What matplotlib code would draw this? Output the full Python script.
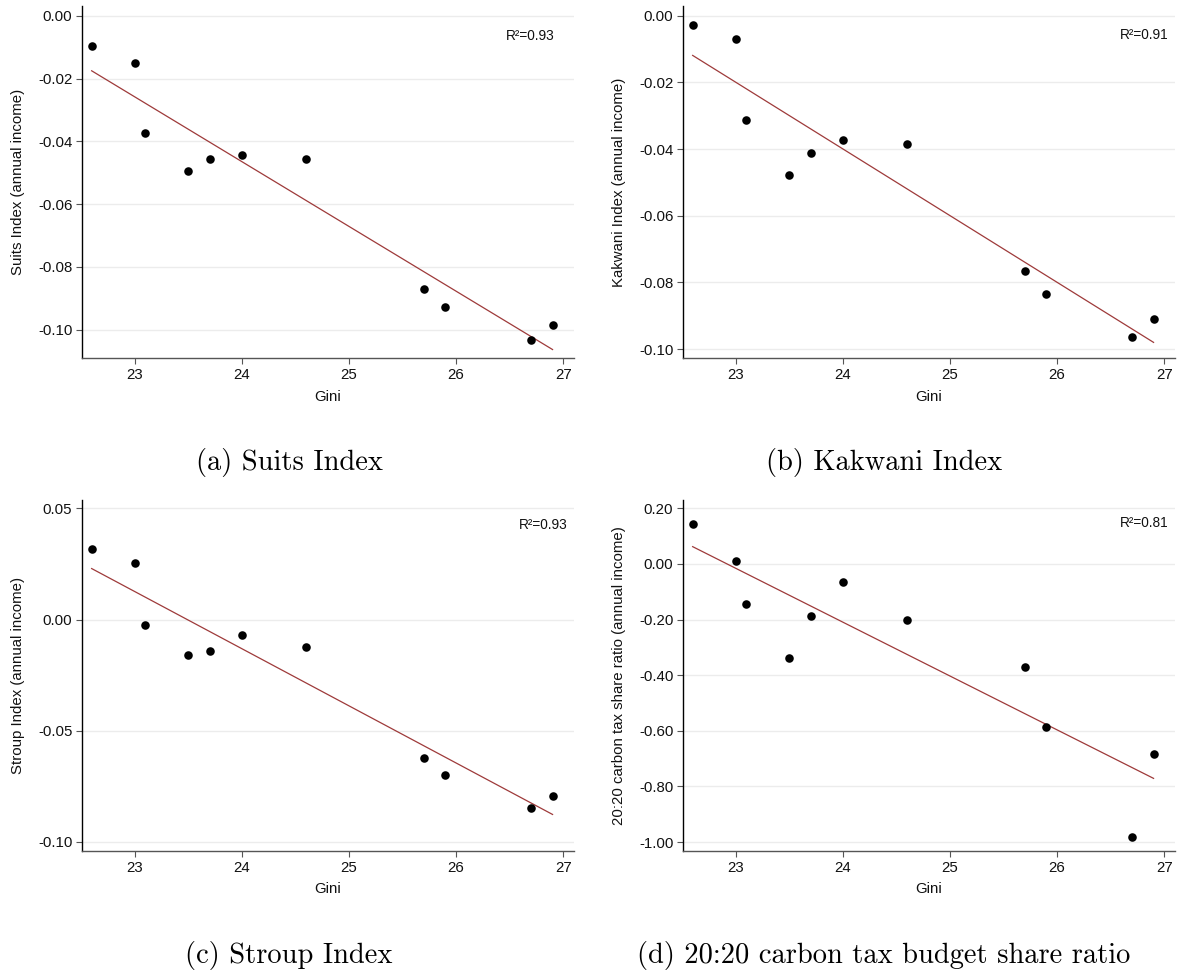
import numpy as np
import matplotlib
matplotlib.use("Agg")
import matplotlib.pyplot as plt
from matplotlib.ticker import FixedLocator, FormatStrFormatter

# data
gini = [22.6, 23.0, 23.1, 23.5, 23.7, 24.0, 24.6, 25.7, 25.9, 26.7, 26.9]
suits = [-0.0095, -0.0152, -0.0373, -0.0496, -0.0456, -0.0444, -0.0455, -0.0869, -0.0929, -0.1032, -0.0986]
kakwani = [-0.0028, -0.0069, -0.0312, -0.0477, -0.0413, -0.0373, -0.0384, -0.0767, -0.0836, -0.0963, -0.0911]
stroup = [0.0318, 0.0255, -0.0026, -0.0158, -0.0141, -0.0068, -0.0123, -0.0622, -0.0700, -0.0847, -0.0796]
ratio2020 = [0.144, 0.012, -0.144, -0.338, -0.188, -0.065, -0.200, -0.372, -0.587, -0.980, -0.685]

r2_labels = ["R²=0.93", "R²=0.91", "R²=0.93", "R²=0.81"]
ylabels = ["Suits Index (annual income)", "Kakwani Index (annual income)",
           "Stroup Index (annual income)", "20:20 carbon tax share ratio (annual income)"]
captions = ["(a) Suits Index", "(b) Kakwani Index", "(c) Stroup Index",
            "(d) 20:20 carbon tax budget share ratio"]
xticks = [23, 24, 25, 26, 27]
yticks = [[0.00, -0.02, -0.04, -0.06, -0.08, -0.10],
          [0.00, -0.02, -0.04, -0.06, -0.08, -0.10],
          [0.05, 0.00, -0.05, -0.10],
          [0.20, 0.00, -0.20, -0.40, -0.60, -0.80, -1.00]]
ylims = [(-0.1092, 0.0031), (-0.1028, 0.0029), (-0.1042, 0.0538), (-1.032, 0.230)]
series = [suits, kakwani, stroup, ratio2020]

plt.rcParams['font.family'] = ['Liberation Sans', 'DejaVu Sans']

W, H = 1180, 972
fig = plt.figure(figsize=(W / 100, H / 100), dpi=100)

# axes boxes in pixels: left, top, right, bottom
boxes = [(82, 6, 574, 358.5), (683, 6, 1175, 358.5),
         (82, 500, 574, 851), (683, 500, 1175, 851)]
cap_pos = [(289, 462), (884, 462), (289, 955), (884, 955)]
r2_x = [26.92, 27.04, 27.04, 27.04]
r2_y = [0.915, 0.918, 0.929, 0.934]

for i in range(4):
    l, t, r, b = boxes[i]
    ax = fig.add_axes([l / W, 1 - b / H, (r - l) / W, (b - t) / H])
    x = np.array(gini)
    y = np.array(series[i])

    ax.set_xlim(22.51, 27.1)
    ax.set_ylim(*ylims[i])
    ax.yaxis.set_major_locator(FixedLocator(yticks[i]))
    ax.yaxis.set_major_formatter(FormatStrFormatter('%.2f'))
    ax.xaxis.set_major_locator(FixedLocator(xticks))
    ax.xaxis.set_major_formatter(FormatStrFormatter('%d'))

    ax.grid(axis='y', color='#ececec', linewidth=1.0)
    ax.set_axisbelow(True)

    slope, icpt = np.polyfit(x, y, 1)
    xs = np.array([x.min(), x.max()])
    ax.plot(xs, icpt + slope * xs, color='#9e3a3a', linewidth=0.9, zorder=2)
    ax.scatter(x, y, s=38, color='black', zorder=3, linewidths=0)

    for s in ['top', 'right']:
        ax.spines[s].set_visible(False)
    ax.spines['left'].set_color('black')
    ax.spines['left'].set_linewidth(1.0)
    ax.spines['bottom'].set_color('#555555')
    ax.spines['bottom'].set_linewidth(1.0)
    ax.tick_params(axis='both', labelsize=10.8, length=4, width=0.8,
                   color='#555555', pad=3, labelcolor='#111111')

    ax.set_xlabel('Gini', fontsize=10.8, color='#111111')
    ax.xaxis.set_label_coords(0.5, -0.088)
    ax.set_ylabel(ylabels[i], fontsize=10.8, color='#111111')
    ax.yaxis.set_label_coords(-0.13, 0.5)
    ax.yaxis.label.set_verticalalignment('center')

    ax.text(r2_x[i], r2_y[i], r2_labels[i], transform=ax.get_xaxis_transform(),
            ha='right', va='center', fontsize=9.8, color='#111111')

    cx, cy = cap_pos[i]
    fig.text(cx / W, 1 - cy / H, captions[i], ha='center', va='center',
             fontsize=20.5, family='cmr10')

fig.savefig('out.png', dpi=100)
